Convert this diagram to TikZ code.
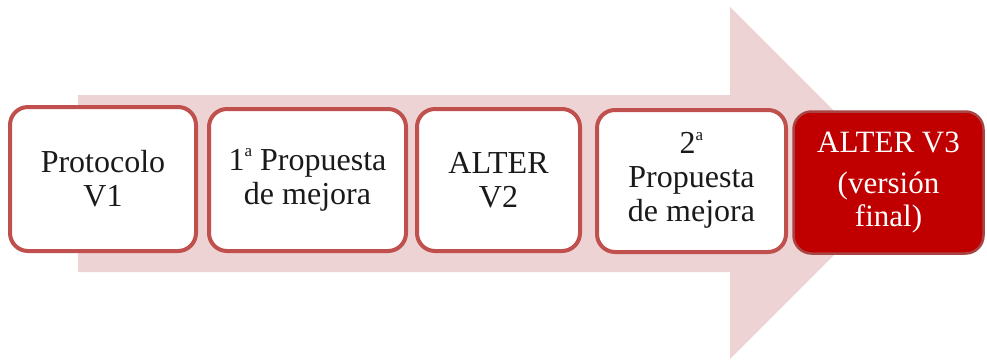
\documentclass[tikz,border=0pt]{standalone}
\usepackage{fontspec}
\setmainfont{Liberation Serif}
\definecolor{arrowpink}{HTML}{EDD3D3}
\definecolor{boxline}{HTML}{C0504D}
\definecolor{darkred}{HTML}{C00000}
\definecolor{darkline}{HTML}{A84444}
\definecolor{txt}{HTML}{1A1A1A}
\newcommand{\ordA}{\raisebox{0.42em}{\fontsize{17}{17}\selectfont a}}
\begin{document}
\begin{tikzpicture}[x=1pt,y=-1pt,
  stage/.style={draw=boxline, fill=white, line width=4pt, rounded corners=18pt,
    align=center, text=txt, inner sep=0pt,
    font=\fontsize{32}{34}\selectfont},
  finalstage/.style={stage, draw=darkline, fill=darkred, text=white, line width=2.5pt}]
\useasboundingbox (0,0) rectangle (987,359);
\fill[arrowpink] (78,95) -- (730,95) -- (730,7) -- (906,183) -- (730,359) -- (730,272) -- (78,272) -- cycle;
\node[stage, minimum width=186pt, minimum height=144pt] (p1) at (103,179) {Protocolo\\V1};
\node[stage, minimum width=197pt, minimum height=142pt] (p2) at (307.5,180) {1\ordA\ Propuesta\\de mejora};
\node[stage, minimum width=163pt, minimum height=142pt] (p3) at (498.5,180) {ALTER\\V2};
\node[stage, minimum width=189pt, minimum height=142pt] (p4) at (691.5,181) {\raisebox{-3pt}{\begin{tabular}{@{}c@{}}2\ordA\\Propuesta\\de mejora\end{tabular}}};
\node[finalstage, minimum width=190pt, minimum height=142pt] (p5) at (888.5,182.5) {\fontsize{31}{33}\selectfont\raisebox{-10pt}{\begin{tabular}{@{}c@{}}ALTER V3\\[8pt] (versión\\ final)\end{tabular}}};
\end{tikzpicture}
\end{document}
